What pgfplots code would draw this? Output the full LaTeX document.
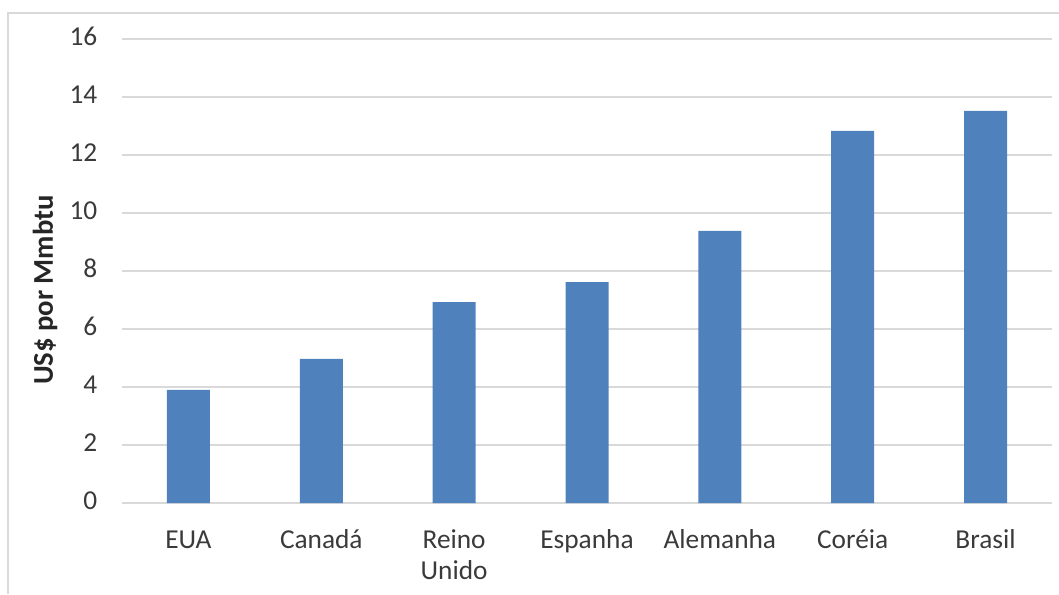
\documentclass[border=0pt]{standalone}
\usepackage{pgfplots}
\pgfplotsset{compat=1.18}
\usepackage{fontspec}
\setmainfont{Carlito}
\definecolor{barblue}{HTML}{4F81BD}
\definecolor{gridgray}{HTML}{D9D9D9}
\definecolor{txtgray}{HTML}{3A3A3A}
\begin{document}
\begin{tikzpicture}
\path[use as bounding box] (0,0) rectangle (794.25pt,-445.5pt);
\draw[gridgray, line width=1pt] (6pt,-445.5pt) -- (6pt,-9.75pt) -- (794.25pt,-9.75pt);
\begin{axis}[
  at={(91.5pt,-377.25pt)}, anchor=south west,
  scale only axis, width=697.5pt, height=348pt,
  xmin=-0.5, xmax=6.5, ymin=0, ymax=16,
  ytick={0,2,...,16},
  xtick={0,1,2,3,4,5,6},
  xticklabels={EUA,Canadá,Reino\\Unido,Espanha,Alemanha,Coréia,Brasil},
  xticklabel style={align=center, font=\fontsize{20.5pt}{23.5pt}\selectfont, text=txtgray, yshift=-14pt},
  typeset ticklabels with strut,
  yticklabel style={font=\fontsize{20.5pt}{23.5pt}\selectfont, text=txtgray, xshift=-15pt},
  /pgf/number format/assume math mode=true,
  axis line style={draw=none},
  major tick length=0pt,
  ymajorgrids, grid style={gridgray, line width=1pt},
  axis on top=false,
]
\addplot[ybar, bar width=32.25pt, fill=barblue, draw=none] coordinates {
(0,3.9) (1,4.97) (2,6.93) (3,7.62) (4,9.38) (5,12.83) (6,13.52)};
\end{axis}
\node[rotate=90, font=\fontsize{21.5pt}{24pt}\selectfont\bfseries, text=black!85] at (33.75pt,-217.5pt) {US\$ por Mmbtu};
\end{tikzpicture}
\end{document}
